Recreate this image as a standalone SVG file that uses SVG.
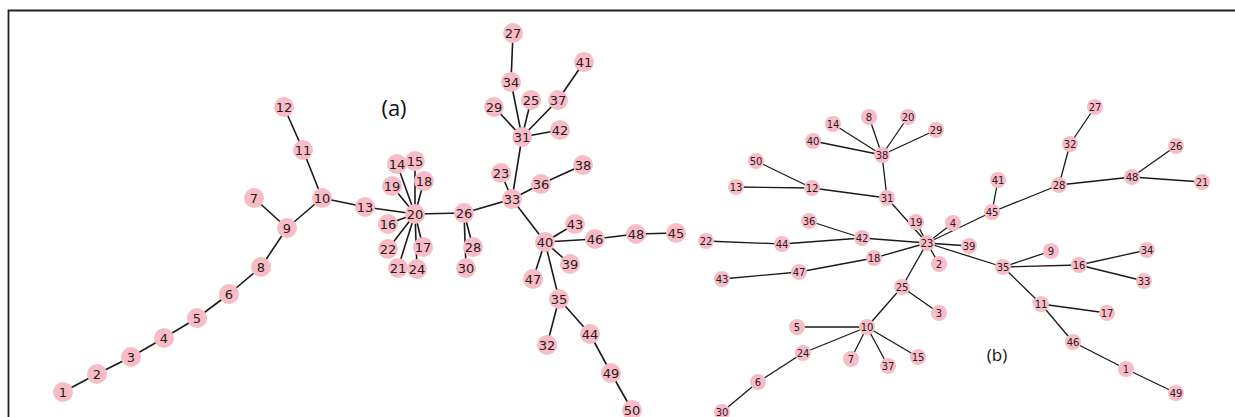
<svg xmlns="http://www.w3.org/2000/svg" width="1235" height="417" viewBox="0 0 1235 417">
<style>
.ea line{stroke:#1a1a1a;stroke-width:1.6}
.eb line{stroke:#1a1a1a;stroke-width:1.3}
.na circle{fill:#F8BCC7;r:10px}
.nb circle{fill:#F8BCC7;r:8px}
.na text{font-family:"DejaVu Sans",sans-serif;font-size:13px;fill:#2a1a1e;text-anchor:middle;dominant-baseline:central}
.nb text{font-family:"DejaVu Sans",sans-serif;font-size:10px;fill:#2a1a1e;text-anchor:middle;dominant-baseline:central}
.lab{font-family:"Open Sans","Liberation Sans",sans-serif;fill:#111;text-anchor:middle;dominant-baseline:central}
</style>
<rect width="1235" height="417" fill="#fff"/>
<path d="M8.5 417V10.5H1235" fill="none" stroke="#222" stroke-width="1.8"/>
<text class="lab" x="394" y="107" font-size="22">(a)</text>
<text class="lab" x="997" y="354" font-size="17">(b)</text>

<g id="edges-a" class="ea">
<line x1="63" y1="392" x2="97" y2="374"/>
<line x1="97" y1="374" x2="131" y2="357"/>
<line x1="131" y1="357" x2="164" y2="338"/>
<line x1="164" y1="338" x2="197" y2="318"/>
<line x1="197" y1="318" x2="229" y2="294"/>
<line x1="229" y1="294" x2="261" y2="267"/>
<line x1="261" y1="267" x2="287" y2="228"/>
<line x1="287" y1="228" x2="254" y2="198"/>
<line x1="287" y1="228" x2="322" y2="198"/>
<line x1="322" y1="198" x2="303" y2="150"/>
<line x1="303" y1="150" x2="284" y2="107"/>
<line x1="322" y1="198" x2="365" y2="207"/>
<line x1="365" y1="207" x2="415" y2="214"/>
<line x1="415" y1="214" x2="397" y2="164"/>
<line x1="415" y1="214" x2="415" y2="161"/>
<line x1="415" y1="214" x2="392" y2="186"/>
<line x1="415" y1="214" x2="424" y2="181"/>
<line x1="415" y1="214" x2="388" y2="224"/>
<line x1="415" y1="214" x2="388" y2="249"/>
<line x1="415" y1="214" x2="398" y2="268"/>
<line x1="415" y1="214" x2="423" y2="247"/>
<line x1="415" y1="214" x2="417" y2="269"/>
<line x1="415" y1="214" x2="464" y2="213"/>
<line x1="464" y1="213" x2="473" y2="247"/>
<line x1="464" y1="213" x2="466" y2="268"/>
<line x1="464" y1="213" x2="512" y2="199"/>
<line x1="512" y1="199" x2="522" y2="137"/>
<line x1="512" y1="199" x2="501" y2="173"/>
<line x1="512" y1="199" x2="541" y2="184"/>
<line x1="541" y1="184" x2="583" y2="165"/>
<line x1="522" y1="137" x2="511" y2="82"/>
<line x1="511" y1="82" x2="513" y2="33"/>
<line x1="522" y1="137" x2="494" y2="107"/>
<line x1="522" y1="137" x2="531" y2="100"/>
<line x1="522" y1="137" x2="558" y2="100"/>
<line x1="558" y1="100" x2="584" y2="62"/>
<line x1="522" y1="137" x2="560" y2="130"/>
<line x1="512" y1="199" x2="545" y2="242"/>
<line x1="545" y1="242" x2="575" y2="224"/>
<line x1="545" y1="242" x2="595" y2="239"/>
<line x1="595" y1="239" x2="636" y2="234"/>
<line x1="636" y1="234" x2="676" y2="233"/>
<line x1="545" y1="242" x2="570" y2="264"/>
<line x1="545" y1="242" x2="533" y2="279"/>
<line x1="545" y1="242" x2="559" y2="299"/>
<line x1="559" y1="299" x2="547" y2="345"/>
<line x1="559" y1="299" x2="590" y2="334"/>
<line x1="590" y1="334" x2="611" y2="373"/>
<line x1="611" y1="373" x2="632" y2="410"/>
</g>

<g id="edges-b" class="eb">
<line x1="882" y1="155" x2="833" y2="124"/>
<line x1="882" y1="155" x2="869" y2="117"/>
<line x1="882" y1="155" x2="908" y2="117"/>
<line x1="882" y1="155" x2="936" y2="130"/>
<line x1="882" y1="155" x2="813" y2="141"/>
<line x1="882" y1="155" x2="887" y2="198"/>
<line x1="887" y1="198" x2="812" y2="188"/>
<line x1="812" y1="188" x2="756" y2="161"/>
<line x1="812" y1="188" x2="736" y2="187"/>
<line x1="887" y1="198" x2="927" y2="243"/>
<line x1="916" y1="222" x2="927" y2="243"/>
<line x1="927" y1="243" x2="953" y2="223"/>
<line x1="927" y1="243" x2="992" y2="212"/>
<line x1="992" y1="212" x2="998" y2="180"/>
<line x1="992" y1="212" x2="1059" y2="185"/>
<line x1="1059" y1="185" x2="1070" y2="144"/>
<line x1="1070" y1="144" x2="1095" y2="107"/>
<line x1="1059" y1="185" x2="1132" y2="177"/>
<line x1="1132" y1="177" x2="1176" y2="146"/>
<line x1="1132" y1="177" x2="1202" y2="182"/>
<line x1="927" y1="243" x2="969" y2="246"/>
<line x1="927" y1="243" x2="1003" y2="267"/>
<line x1="1003" y1="267" x2="1051" y2="251"/>
<line x1="1003" y1="267" x2="1079" y2="265"/>
<line x1="1079" y1="265" x2="1147" y2="250"/>
<line x1="1079" y1="265" x2="1144" y2="281"/>
<line x1="1003" y1="267" x2="1041" y2="304"/>
<line x1="1041" y1="304" x2="1107" y2="313"/>
<line x1="1041" y1="304" x2="1073" y2="342"/>
<line x1="1073" y1="342" x2="1126" y2="369"/>
<line x1="1126" y1="369" x2="1176" y2="393"/>
<line x1="927" y1="243" x2="939" y2="264"/>
<line x1="927" y1="243" x2="862" y2="238"/>
<line x1="862" y1="238" x2="809" y2="221"/>
<line x1="862" y1="238" x2="782" y2="244"/>
<line x1="782" y1="244" x2="706" y2="241"/>
<line x1="927" y1="243" x2="874" y2="258"/>
<line x1="874" y1="258" x2="799" y2="272"/>
<line x1="799" y1="272" x2="722" y2="279"/>
<line x1="927" y1="243" x2="902" y2="287"/>
<line x1="902" y1="287" x2="939" y2="313"/>
<line x1="902" y1="287" x2="867" y2="327"/>
<line x1="867" y1="327" x2="797" y2="327"/>
<line x1="867" y1="327" x2="851" y2="359"/>
<line x1="867" y1="327" x2="888" y2="366"/>
<line x1="867" y1="327" x2="918" y2="357"/>
<line x1="867" y1="327" x2="803" y2="353"/>
<line x1="803" y1="353" x2="758" y2="382"/>
<line x1="758" y1="382" x2="722" y2="412"/>
</g>

<g class="na">
<g id="a1"><circle cx="63" cy="392"/><text x="63" y="392">1</text></g>
<g id="a2"><circle cx="97" cy="374"/><text x="97" y="374">2</text></g>
<g id="a3"><circle cx="131" cy="357"/><text x="131" y="357">3</text></g>
<g id="a4"><circle cx="164" cy="338"/><text x="164" y="338">4</text></g>
<g id="a5"><circle cx="197" cy="318"/><text x="197" y="318">5</text></g>
<g id="a6"><circle cx="229" cy="294"/><text x="229" y="294">6</text></g>
<g id="a7"><circle cx="254" cy="198"/><text x="254" y="198">7</text></g>
<g id="a8"><circle cx="261" cy="267"/><text x="261" y="267">8</text></g>
<g id="a9"><circle cx="287" cy="228"/><text x="287" y="228">9</text></g>
<g id="a10"><circle cx="322" cy="198"/><text x="322" y="198">10</text></g>
<g id="a11"><circle cx="303" cy="150"/><text x="303" y="150">11</text></g>
<g id="a12"><circle cx="284" cy="107"/><text x="284" y="107">12</text></g>
<g id="a13"><circle cx="365" cy="207"/><text x="365" y="207">13</text></g>
<g id="a14"><circle cx="397" cy="164"/><text x="397" y="164">14</text></g>
<g id="a15"><circle cx="415" cy="161"/><text x="415" y="161">15</text></g>
<g id="a16"><circle cx="388" cy="224"/><text x="388" y="224">16</text></g>
<g id="a17"><circle cx="423" cy="247"/><text x="423" y="247">17</text></g>
<g id="a18"><circle cx="424" cy="181"/><text x="424" y="181">18</text></g>
<g id="a19"><circle cx="392" cy="186"/><text x="392" y="186">19</text></g>
<g id="a20"><circle cx="415" cy="214"/><text x="415" y="214">20</text></g>
<g id="a21"><circle cx="398" cy="268"/><text x="398" y="268">21</text></g>
<g id="a22"><circle cx="388" cy="249"/><text x="388" y="249">22</text></g>
<g id="a23"><circle cx="501" cy="173"/><text x="501" y="173">23</text></g>
<g id="a24"><circle cx="417" cy="269"/><text x="417" y="269">24</text></g>
<g id="a25"><circle cx="531" cy="100"/><text x="531" y="100">25</text></g>
<g id="a26"><circle cx="464" cy="213"/><text x="464" y="213">26</text></g>
<g id="a27"><circle cx="513" cy="33"/><text x="513" y="33">27</text></g>
<g id="a28"><circle cx="473" cy="247"/><text x="473" y="247">28</text></g>
<g id="a29"><circle cx="494" cy="107"/><text x="494" y="107">29</text></g>
<g id="a30"><circle cx="466" cy="268"/><text x="466" y="268">30</text></g>
<g id="a31"><circle cx="522" cy="137"/><text x="522" y="137">31</text></g>
<g id="a32"><circle cx="547" cy="345"/><text x="547" y="345">32</text></g>
<g id="a33"><circle cx="512" cy="199"/><text x="512" y="199">33</text></g>
<g id="a34"><circle cx="511" cy="82"/><text x="511" y="82">34</text></g>
<g id="a35"><circle cx="559" cy="299"/><text x="559" y="299">35</text></g>
<g id="a36"><circle cx="541" cy="184"/><text x="541" y="184">36</text></g>
<g id="a37"><circle cx="558" cy="100"/><text x="558" y="100">37</text></g>
<g id="a38"><circle cx="583" cy="165"/><text x="583" y="165">38</text></g>
<g id="a39"><circle cx="570" cy="264"/><text x="570" y="264">39</text></g>
<g id="a40"><circle cx="545" cy="242"/><text x="545" y="242">40</text></g>
<g id="a41"><circle cx="584" cy="62"/><text x="584" y="62">41</text></g>
<g id="a42"><circle cx="560" cy="130"/><text x="560" y="130">42</text></g>
<g id="a43"><circle cx="575" cy="224"/><text x="575" y="224">43</text></g>
<g id="a44"><circle cx="590" cy="334"/><text x="590" y="334">44</text></g>
<g id="a45"><circle cx="676" cy="233"/><text x="676" y="233">45</text></g>
<g id="a46"><circle cx="595" cy="239"/><text x="595" y="239">46</text></g>
<g id="a47"><circle cx="533" cy="279"/><text x="533" y="279">47</text></g>
<g id="a48"><circle cx="636" cy="234"/><text x="636" y="234">48</text></g>
<g id="a49"><circle cx="611" cy="373"/><text x="611" y="373">49</text></g>
<g id="a50"><circle cx="632" cy="410"/><text x="632" y="410">50</text></g>
</g>

<g class="nb">
<g id="b1"><circle cx="1126" cy="369"/><text x="1126" y="369">1</text></g>
<g id="b2"><circle cx="939" cy="264"/><text x="939" y="264">2</text></g>
<g id="b3"><circle cx="939" cy="313"/><text x="939" y="313">3</text></g>
<g id="b4"><circle cx="953" cy="223"/><text x="953" y="223">4</text></g>
<g id="b5"><circle cx="797" cy="327"/><text x="797" y="327">5</text></g>
<g id="b6"><circle cx="758" cy="382"/><text x="758" y="382">6</text></g>
<g id="b7"><circle cx="851" cy="359"/><text x="851" y="359">7</text></g>
<g id="b8"><circle cx="869" cy="117"/><text x="869" y="117">8</text></g>
<g id="b9"><circle cx="1051" cy="251"/><text x="1051" y="251">9</text></g>
<g id="b10"><circle cx="867" cy="327"/><text x="867" y="327">10</text></g>
<g id="b11"><circle cx="1041" cy="304"/><text x="1041" y="304">11</text></g>
<g id="b12"><circle cx="812" cy="188"/><text x="812" y="188">12</text></g>
<g id="b13"><circle cx="736" cy="187"/><text x="736" y="187">13</text></g>
<g id="b14"><circle cx="833" cy="124"/><text x="833" y="124">14</text></g>
<g id="b15"><circle cx="918" cy="357"/><text x="918" y="357">15</text></g>
<g id="b16"><circle cx="1079" cy="265"/><text x="1079" y="265">16</text></g>
<g id="b17"><circle cx="1107" cy="313"/><text x="1107" y="313">17</text></g>
<g id="b18"><circle cx="874" cy="258"/><text x="874" y="258">18</text></g>
<g id="b19"><circle cx="916" cy="222"/><text x="916" y="222">19</text></g>
<g id="b20"><circle cx="908" cy="117"/><text x="908" y="117">20</text></g>
<g id="b21"><circle cx="1202" cy="182"/><text x="1202" y="182">21</text></g>
<g id="b22"><circle cx="706" cy="241"/><text x="706" y="241">22</text></g>
<g id="b23"><circle cx="927" cy="243"/><text x="927" y="243">23</text></g>
<g id="b24"><circle cx="803" cy="353"/><text x="803" y="353">24</text></g>
<g id="b25"><circle cx="902" cy="287"/><text x="902" y="287">25</text></g>
<g id="b26"><circle cx="1176" cy="146"/><text x="1176" y="146">26</text></g>
<g id="b27"><circle cx="1095" cy="107"/><text x="1095" y="107">27</text></g>
<g id="b28"><circle cx="1059" cy="185"/><text x="1059" y="185">28</text></g>
<g id="b29"><circle cx="936" cy="130"/><text x="936" y="130">29</text></g>
<g id="b30"><circle cx="722" cy="412"/><text x="722" y="412">30</text></g>
<g id="b31"><circle cx="887" cy="198"/><text x="887" y="198">31</text></g>
<g id="b32"><circle cx="1070" cy="144"/><text x="1070" y="144">32</text></g>
<g id="b33"><circle cx="1144" cy="281"/><text x="1144" y="281">33</text></g>
<g id="b34"><circle cx="1147" cy="250"/><text x="1147" y="250">34</text></g>
<g id="b35"><circle cx="1003" cy="267"/><text x="1003" y="267">35</text></g>
<g id="b36"><circle cx="809" cy="221"/><text x="809" y="221">36</text></g>
<g id="b37"><circle cx="888" cy="366"/><text x="888" y="366">37</text></g>
<g id="b38"><circle cx="882" cy="155"/><text x="882" y="155">38</text></g>
<g id="b39"><circle cx="969" cy="246"/><text x="969" y="246">39</text></g>
<g id="b40"><circle cx="813" cy="141"/><text x="813" y="141">40</text></g>
<g id="b41"><circle cx="998" cy="180"/><text x="998" y="180">41</text></g>
<g id="b42"><circle cx="862" cy="238"/><text x="862" y="238">42</text></g>
<g id="b43"><circle cx="722" cy="279"/><text x="722" y="279">43</text></g>
<g id="b44"><circle cx="782" cy="244"/><text x="782" y="244">44</text></g>
<g id="b45"><circle cx="992" cy="212"/><text x="992" y="212">45</text></g>
<g id="b46"><circle cx="1073" cy="342"/><text x="1073" y="342">46</text></g>
<g id="b47"><circle cx="799" cy="272"/><text x="799" y="272">47</text></g>
<g id="b48"><circle cx="1132" cy="177"/><text x="1132" y="177">48</text></g>
<g id="b49"><circle cx="1176" cy="393"/><text x="1176" y="393">49</text></g>
<g id="b50"><circle cx="756" cy="161"/><text x="756" y="161">50</text></g>
</g>
</svg>
